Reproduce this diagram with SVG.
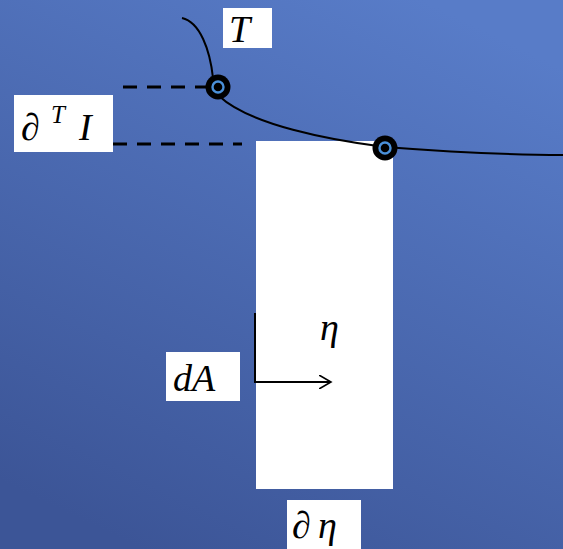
<svg xmlns="http://www.w3.org/2000/svg" width="563" height="549" viewBox="0 0 563 549">
<defs>
<linearGradient id="bg" x1="0.75" y1="0" x2="0.25" y2="1">
<stop offset="0" stop-color="#587cc8"/>
<stop offset="1" stop-color="#3c5597"/>
</linearGradient>
<marker id="open" markerWidth="14" markerHeight="14" refX="12" refY="7" orient="auto" markerUnits="userSpaceOnUse">
<path d="M0,0 L12,7 L0,14" fill="none" stroke="#000" stroke-width="1.6"/>
</marker>
<symbol id="joint" overflow="visible">
<circle cx="0" cy="0" r="12.5" fill="#000"/>
<circle cx="0" cy="0" r="5.5" fill="none" stroke="#4a90d9" stroke-width="2.4"/>
<circle cx="0" cy="0" r="1.8" fill="#000"/>
</symbol>
</defs>
<style>
.lbl{fill:#fff}
text{font-family:"Liberation Serif","Times New Roman",serif;font-size:38px;fill:#000}
.i{font-style:italic}
.dash{stroke:#000;stroke-width:3;stroke-dasharray:14 10;fill:none}
.ln{stroke:#000;stroke-width:2;fill:none}
</style>
<rect x="0" y="0" width="563" height="549" fill="url(#bg)"/>
<g id="plate">
<rect x="256" y="141" width="137" height="348" fill="#fff"/>
</g>
<g id="connectors">
<path class="ln" d="M182,18 C200,22 210,50 213,78"/>
<path class="ln" d="M219,96 C250,125 330,140 385,147 C450,152 510,155 563,155"/>
<line class="dash" x1="123" y1="87" x2="208" y2="87"/>
<line class="dash" x1="113" y1="144" x2="242" y2="144"/>
<path class="ln" d="M255,313 L255,382 L331,382" marker-end="url(#open)"/>
</g>
<g id="joint1"><use href="#joint" x="218" y="87"/></g>
<g id="joint2"><use href="#joint" x="385" y="148"/></g>
<g id="label-T">
<rect class="lbl" x="223" y="8" width="49" height="40"/>
<text class="i" x="229" y="42" font-family="Liberation Serif, serif">T</text>
</g>
<g id="label-dTI">
<rect class="lbl" x="14" y="95" width="99" height="57"/>
<text x="21" y="140" font-family="Liberation Serif, serif">∂</text>
<text class="i" x="51" y="123" font-family="Liberation Serif, serif" style="font-size:25px">T</text>
<text class="i" x="79" y="140" font-family="Liberation Serif, serif">I</text>
</g>
<g id="label-eta">
<text class="i" x="320" y="340" font-family="Liberation Serif, serif">η</text>
</g>
<g id="label-dA">
<rect class="lbl" x="166" y="352" width="74" height="49"/>
<text class="i" x="173" y="391" font-family="Liberation Serif, serif">dA</text>
</g>
<g id="label-deta">
<rect class="lbl" x="287" y="500" width="74" height="49"/>
<text x="292" y="538" font-family="Liberation Serif, serif">∂</text>
<text class="i" x="318" y="538" font-family="Liberation Serif, serif">η</text>
</g>
</svg>
